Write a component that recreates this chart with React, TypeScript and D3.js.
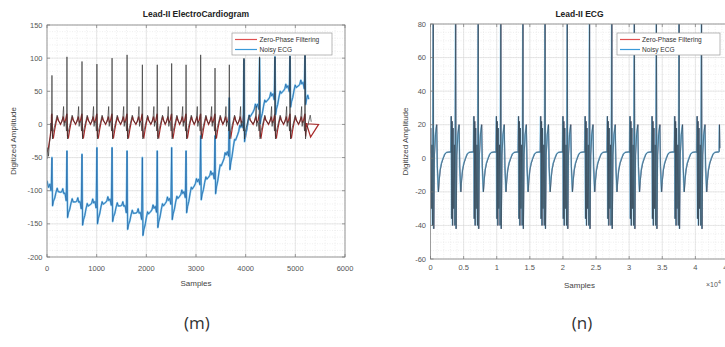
import React from "react";
import * as d3 from "d3";

type Pt = [number, number];
type Tpl = [number, number | null][];

// ---------- Panel (m): Lead-II ElectroCardiogram ----------
const leftXTicks = [0, 1000, 2000, 3000, 4000, 5000, 6000];
const leftYTicks = [-200, -150, -100, -50, 0, 50, 100, 150];
const leftBeats = [100, 402, 705, 1005, 1310, 1612, 1920, 2220, 2510, 2800, 3094, 3383, 3671, 3966, 4280, 4590, 4893, 5195];
const leftPeaks = [74, 102, 95, 91, 100, 105, 90, 90, 92, 90, 105, 85, 90, 100, 102, 102, 103, 105];
const noisyBase = [-100, -118, -130, -128, -124, -136, -146, -134, -122, -112, -92, -84, -48, -5, 22, 36, 48, 52];
const noisyPeaks = [-50, -40, -45, -35, -35, -40, -50, -40, -35, -40, -17, -17, 40, 98, 100, 102, 103, 104];
// one heartbeat, offsets in samples from the R peak (null = R peak value)
const cleanBeat: Tpl = [[-130, 1], [-105, 4], [-85, 10], [-68, 27], [-58, -3], [-40, 5], [-22, 2], [-10, -10], [0, null], [10, -22], [22, -12], [45, -5], [80, 6], [105, 14], [125, 6]];
const filteredBeat: Tpl = [[-130, 0], [-100, 5], [-75, 12], [-55, 3], [-30, 6], [-10, 14], [0, 16], [12, -18], [30, -20], [55, -8], [85, 4], [110, 12], [125, 7]];
const noisyBeat: Tpl = [[-130, 8], [-105, 10], [-85, 16], [-65, 10], [-40, 12], [-15, 2], [0, null], [12, -22], [30, -14], [55, -8], [80, 2], [105, 10], [125, 6]];
const cleanStart: Pt[] = [[0, -52], [15, -35], [30, -48], [50, -28], [70, -18]];
const cleanEnd: Pt[] = [[5320, 4]];
const filteredStart: Pt[] = [[0, -42], [30, -35], [60, -20], [85, -5]];
const filteredTail: Pt[] = [[5221, 2], [5307, -19], [5468, 0], [5221, 1]];
const noisyStart: Pt[] = [[0, -85], [30, -95], [60, -90], [80, -100]];
const noisyEnd: Pt[] = [[5270, 38]];

// ---------- Panel (n): Lead-II ECG ----------
const rightXTicks = [0, 5000, 10000, 15000, 20000, 25000, 30000, 35000, 40000, 45000];
const rightYTicks = [-60, -40, -20, 0, 20, 40, 60, 80];
const rightBeats = [420, 3800, 7210, 10620, 13960, 17300, 20660, 24020, 27380, 30790, 34120, 37540, 40930];
const rightPeaks = [80, 80, 80, 80, 80, 80, 80, 80, 80, 80, 80, 80, 80];
const ecgBeat: Tpl = [[-720, 3.5], [-660, 25], [-600, -36], [-530, 22], [-460, -40], [-390, 18], [-300, -30], [-200, 8], [-110, -40], [0, null], [70, -42], [180, 2], [330, 14], [520, 20], [620, -5], [780, -20], [900, -13], [1050, -7], [1250, -3], [1500, 0], [1750, 2.5], [2000, 3.5], [2550, 3.8]];
const rightStart: Pt[] = [[0, 3]];
const rightEnd: Pt[] = [[43530, 3.8], [43600, 4], [43640, 20], [43690, 6]];

const legendLabels = ["Zero-Phase Filtering", "Noisy ECG"];

function buildSeries(beats: number[], peaks: number[] | null, baseAt: (t: number) => number, tpl: Tpl, start: Pt[], end: Pt[], lastMax?: number): Pt[] {
  const out: Pt[] = [...start];
  const sx = start.length ? start[start.length - 1][0] : -Infinity;
  beats.forEach((b, i) => {
    tpl.forEach(([o, v]) => {
      const x = b + o;
      if (x <= sx) return;
      if (i === beats.length - 1 && lastMax !== undefined && o > lastMax) return;
      out.push([x, v === null ? peaks![i] : baseAt(x) + v]);
    });
  });
  out.push(...end);
  return out;
}

const FONT = "'Liberation Sans', Arial, Helvetica, sans-serif";

type PanelProps = {
  id: string;
  x: d3.ScaleLinear<number, number>;
  y: d3.ScaleLinear<number, number>;
  xTicks: number[];
  yTicks: number[];
  xMinorStep: number;
  yMinorStep: number;
  xFmt: (v: number) => string;
  title: string;
  titleX: number;
  yLabelX: number;
  xLabelY: number;
  xTickY: number;
  legend: { x0: number; y0: number; x1: number; y1: number; lx0: number; lx1: number; tx: number };
  children: React.ReactNode;
};

function Panel(p: PanelProps) {
  const [x0, x1] = p.x.range();
  const [y0, y1] = p.y.range();
  const xd = p.x.domain();
  const yd = p.y.domain();
  const xMinor = d3.range(xd[0], xd[1] + 1e-9, p.xMinorStep);
  const yMinor = d3.range(yd[0], yd[1] + 1e-9, p.yMinorStep);
  const L = p.legend;
  return (
    <g fontFamily={FONT}>
      <defs>
        <clipPath id={p.id}>
          <rect x={x0} y={y1} width={x1 - x0} height={y0 - y1} />
        </clipPath>
      </defs>
      <rect x={x0} y={y1} width={x1 - x0} height={y0 - y1} fill="#fff" />
      {xMinor.map((v) => (
        <line key={"xm" + v} x1={p.x(v)} x2={p.x(v)} y1={y1} y2={y0} stroke="#e4e4e4" strokeWidth={0.6} strokeDasharray="1,1.5" />
      ))}
      {yMinor.map((v) => (
        <line key={"ym" + v} x1={x0} x2={x1} y1={p.y(v)} y2={p.y(v)} stroke="#e4e4e4" strokeWidth={0.6} strokeDasharray="1,1.5" />
      ))}
      {p.xTicks.map((v) => (
        <line key={"xg" + v} x1={p.x(v)} x2={p.x(v)} y1={y1} y2={y0} stroke="#d8d8d8" strokeWidth={0.6} />
      ))}
      {p.yTicks.map((v) => (
        <line key={"yg" + v} x1={x0} x2={x1} y1={p.y(v)} y2={p.y(v)} stroke="#d8d8d8" strokeWidth={0.6} />
      ))}
      <g clipPath={`url(#${p.id})`}>{p.children}</g>
      <rect x={x0} y={y1} width={x1 - x0} height={y0 - y1} fill="none" stroke="#8a8a8a" strokeWidth={0.8} />
      {p.xTicks.map((v) => (
        <g key={"xt" + v}>
          <line x1={p.x(v)} x2={p.x(v)} y1={y0} y2={y0 - 3} stroke="#777" strokeWidth={0.7} />
          <line x1={p.x(v)} x2={p.x(v)} y1={y1} y2={y1 + 3} stroke="#777" strokeWidth={0.7} />
          <text x={p.x(v)} y={p.xTickY} fontSize={7.5} fill="#555" textAnchor="middle">{p.xFmt(v)}</text>
        </g>
      ))}
      {p.yTicks.map((v) => (
        <g key={"yt" + v}>
          <line x1={x0} x2={x0 + 3} y1={p.y(v)} y2={p.y(v)} stroke="#777" strokeWidth={0.7} />
          <line x1={x1} x2={x1 - 3} y1={p.y(v)} y2={p.y(v)} stroke="#777" strokeWidth={0.7} />
          <text x={x0 - 4.5} y={p.y(v) + 2.6} fontSize={7.5} fill="#555" textAnchor="end">{v}</text>
        </g>
      ))}
      <text x={p.titleX} y={17} fontSize={8.5} fontWeight="bold" fill="#222" textAnchor="middle">{p.title}</text>
      <text x={(x0 + x1) / 2} y={p.xLabelY} fontSize={8} fill="#444" textAnchor="middle">Samples</text>
      <text transform={`translate(${p.yLabelX},${(y0 + y1) / 2}) rotate(-90)`} fontSize={8} fill="#444" textAnchor="middle">Digitized Amplitude</text>
      <rect x={L.x0} y={L.y0} width={L.x1 - L.x0} height={L.y1 - L.y0} fill="#fff" stroke="#9a9a9a" strokeWidth={0.7} />
      {legendLabels.map((lab, i) => {
        const yy = L.y0 + 6.5 + i * 10;
        return (
          <g key={lab}>
            <line x1={L.lx0} x2={L.lx1} y1={yy} y2={yy} stroke={i === 0 ? "#e05050" : "#3a9ad9"} strokeWidth={1.2} />
            <text x={L.tx} y={yy + 2.3} fontSize={6.6} fill="#333">{lab}</text>
          </g>
        );
      })}
    </g>
  );
}

export default function App() {
  const xL = d3.scaleLinear().domain([0, 6000]).range([47, 345]);
  const yL = d3.scaleLinear().domain([-200, 150]).range([257, 25]);
  const xR = d3.scaleLinear().domain([0, 45000]).range([430.5, 728.5]);
  const yR = d3.scaleLinear().domain([-60, 80]).range([259, 24]);

  const noisyBaseAt = d3.scaleLinear().domain(leftBeats).range(noisyBase).clamp(true);
  const zero = () => 0;

  const cleanL = buildSeries(leftBeats, leftPeaks, zero, cleanBeat, cleanStart, cleanEnd, 105);
  const filteredL = buildSeries(leftBeats, null, zero, filteredBeat, filteredStart, filteredTail, 12);
  const noisyL = buildSeries(leftBeats, noisyPeaks, (t) => noisyBaseAt(t), noisyBeat, noisyStart, noisyEnd, 55);

  const ecgR = buildSeries(rightBeats, rightPeaks, zero, ecgBeat, rightStart, rightEnd);

  const lineL = d3.line<Pt>().x((d) => xL(d[0])).y((d) => yL(d[1]));
  const lineR = d3.line<Pt>().x((d) => xR(d[0])).y((d) => yR(d[1]));
  const lineRShift = d3.line<Pt>().x((d) => xR(d[0] - 25)).y((d) => yR(d[1]));

  return (
    <svg width={725} height={347} style={{ position: "absolute", left: 0, top: 0, background: "#fff" }}>
      <rect x={0} y={0} width={725} height={347} fill="#fff" />
      <Panel
        id="clipL" x={xL} y={yL} xTicks={leftXTicks} yTicks={leftYTicks} xMinorStep={200} yMinorStep={10}
        xFmt={(v) => String(v)} title="Lead-II ElectroCardiogram" titleX={196} yLabelX={16} xLabelY={286} xTickY={270.5}
        legend={{ x0: 232, y0: 33, x1: 332, y1: 55, lx0: 235, lx1: 257, tx: 259.5 }}
      >
        <path d={lineL(filteredL) || ""} fill="none" stroke="#a82a2a" strokeWidth={1.2} />
        <path d={lineL(noisyL) || ""} fill="none" stroke="#7cc3ec" strokeWidth={1.9} strokeLinejoin="round" />
        <path d={lineL(noisyL) || ""} fill="none" stroke="#1b5fa0" strokeWidth={0.7} />
        <path d={lineL(cleanL) || ""} fill="none" stroke="#333" strokeWidth={0.9} strokeOpacity={0.75} />
      </Panel>
      <Panel
        id="clipR" x={xR} y={yR} xTicks={rightXTicks} yTicks={rightYTicks} xMinorStep={1000} yMinorStep={5}
        xFmt={(v) => d3.format("~g")(v / 1e4)} title="Lead-II ECG" titleX={579.5} yLabelX={408} xLabelY={288} xTickY={269.5}
        legend={{ x0: 617, y0: 33, x1: 720, y1: 55, lx0: 620, lx1: 640, tx: 642 }}
      >
        <path d={lineR(ecgR) || ""} fill="none" stroke="#c84040" strokeWidth={0.8} />
        <path d={lineRShift(ecgR) || ""} fill="none" stroke="#7cc4ec" strokeWidth={1.6} />
        <path d={lineR(ecgR) || ""} fill="none" stroke="#333a44" strokeWidth={0.8} strokeOpacity={0.75} />
      </Panel>
      <text x={706} y={287} fontSize={7} fill="#555" fontFamily={FONT}>
        ×10<tspan fontSize={5} dy={-3}>4</tspan>
      </text>
      <text x={197} y={329} fontSize={17} fill="#333" textAnchor="middle" fontFamily="'Open Sans', 'DejaVu Sans', sans-serif">(m)</text>
      <text x={582} y={329} fontSize={17} fill="#333" textAnchor="middle" fontFamily="'Open Sans', 'DejaVu Sans', sans-serif">(n)</text>
    </svg>
  );
}
